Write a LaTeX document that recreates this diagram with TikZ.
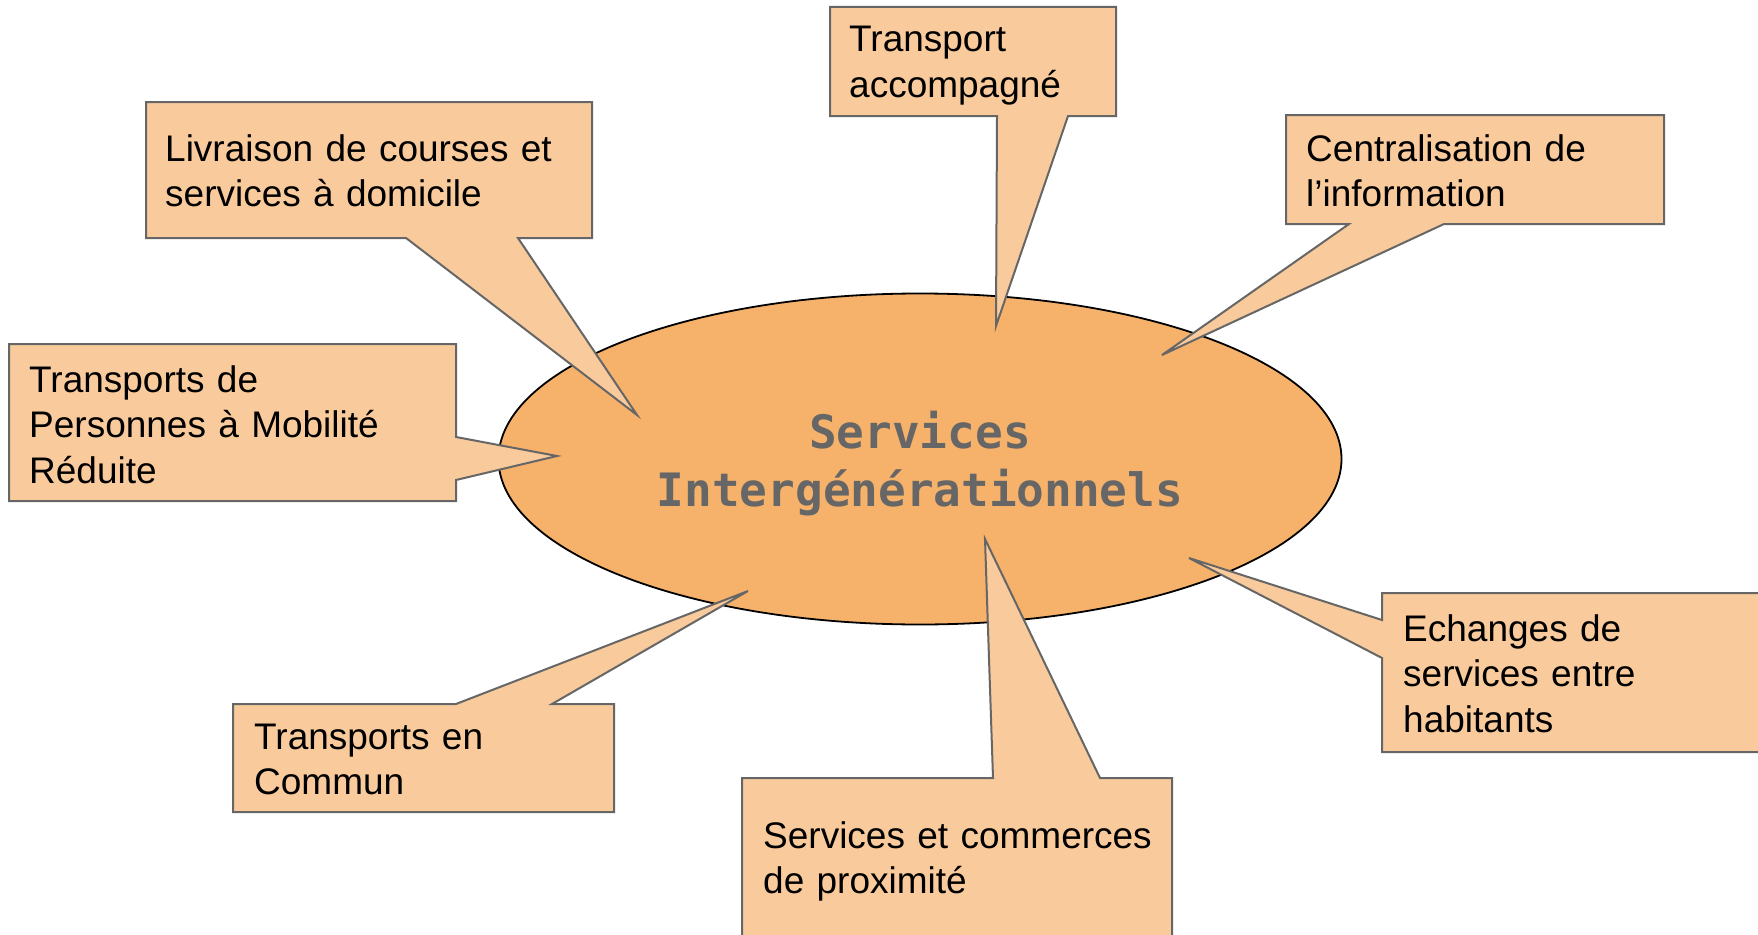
\documentclass[tikz,border=0pt]{standalone}
\usepackage{fontspec}
\setmainfont{Liberation Sans}
\newfontfamily\titlemono{DejaVu Sans Mono}
\usetikzlibrary{shapes.geometric}
\definecolor{boxfill}{HTML}{F9CB9C}
\definecolor{boxline}{HTML}{666666}
\definecolor{ovalfill}{HTML}{F6B26B}
\definecolor{titlegray}{HTML}{666666}
\tikzset{
  calloutshape/.style={fill=boxfill, draw=boxline, line width=2pt, line join=miter},
  lbl/.style={anchor=base west, inner sep=0pt, align=left, text=black,
    font=\fontsize{37}{45.5}\selectfont},
  oval/.style={ellipse, fill=ovalfill, draw=black, line width=1.8pt, inner sep=0pt,
    minimum width=843pt, minimum height=331pt},
  titletext/.style={anchor=base, inner sep=0pt, align=center, text width=700pt,
    text=titlegray, font=\titlemono\bfseries\fontsize{46}{58}\selectfont}
}
\begin{document}
\begin{tikzpicture}[x=1pt,y=-1pt]
\useasboundingbox (0,0) rectangle (1758,934);
\clip (0,0) rectangle (1758,934);
\fill[white] (0,0) rectangle (1758,934);

% central ellipse
\node[oval] (centre) at (920,459) {};
\node[titletext] (title) at (920,448) {Services\\Intergénérationnels};

% Transport accompagne
\draw[calloutshape] (830,7) -- (1116,7) -- (1116,116) -- (1068,116) -- (996,326) -- (997,116) -- (830,116) -- cycle;
\node[lbl, text width=260pt] (transport) at (849,52) {Transport\\accompagné};

% Livraison
\draw[calloutshape] (146,102) -- (592,102) -- (592,238) -- (518,238) -- (637,415) -- (406,238) -- (146,238) -- cycle;
\node[lbl, text width=420pt] (livraison) at (165,161) {Livraison de courses et\\services à domicile};

% Centralisation
\draw[calloutshape] (1286,115) -- (1664,115) -- (1664,224) -- (1444,224) -- (1162,355) -- (1349,224) -- (1286,224) -- cycle;
\node[lbl, text width=350pt] (centralisation) at (1306,161) {Centralisation de\\l’information};

% PMR
\draw[calloutshape] (9,344) -- (456,344) -- (456,437) -- (557,456) -- (456,480) -- (456,501) -- (9,501) -- cycle;
\node[lbl, text width=420pt] (pmr) at (29,392) {Transports de\\Personnes à Mobilité\\Réduite};

% Transports en commun
\draw[calloutshape] (233,704) -- (456,704) -- (748,591) -- (552,704) -- (614,704) -- (614,812) -- (233,812) -- cycle;
\node[lbl, text width=350pt] (commun) at (254,749) {Transports en\\Commun};

% Services et commerces
\draw[calloutshape] (742,960) -- (742,778) -- (993,778) -- (985,539) -- (1100,778) -- (1172,778) -- (1172,960) -- cycle;
\node[lbl, text width=400pt] (commerces) at (763,848) {Services et commerces\\de proximité};

% Echanges
\draw[calloutshape] (1790,593) -- (1382,593) -- (1382,620) -- (1189,558) -- (1382,658) -- (1382,752) -- (1790,752) -- cycle;
\node[lbl, text width=340pt] (echanges) at (1403,641) {Echanges de\\services entre\\habitants};
\end{tikzpicture}
\end{document}
